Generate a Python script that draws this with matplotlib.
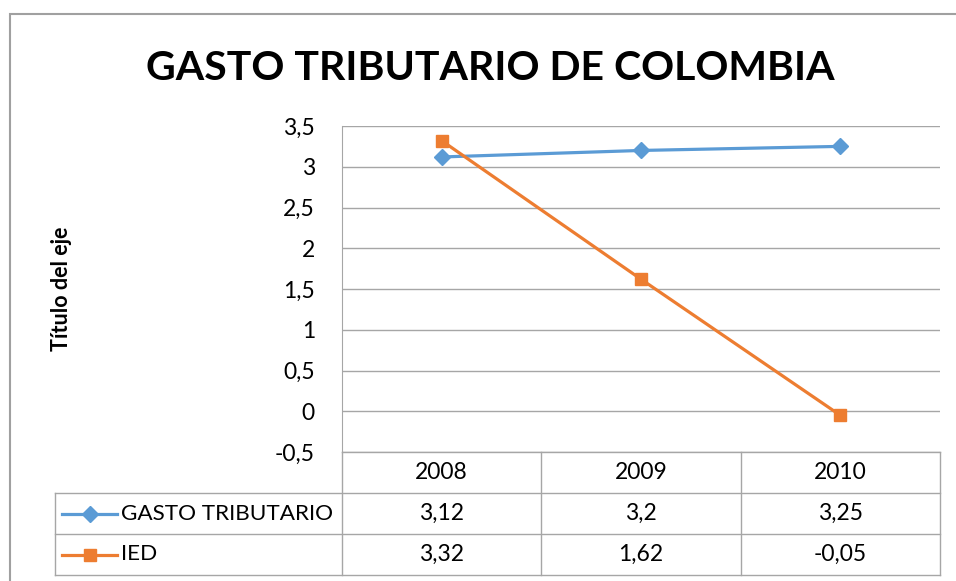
import matplotlib.pyplot as plt
from matplotlib.lines import Line2D
from matplotlib.patches import Rectangle
from matplotlib.ticker import FuncFormatter

plt.rcParams['font.family'] = ['Lato', 'DejaVu Sans']

# datos
years = ['2008', '2009', '2010']
gasto = [3.12, 3.2, 3.25]
ied = [3.32, 1.62, -0.05]
gasto_txt = ['3,12', '3,2', '3,25']
ied_txt = ['3,32', '1,62', '-0,05']
series_names = ['GASTO TRIBUTARIO', 'IED']

blue = '#5B9BD5'
orange = '#ED7D31'
grid_c = '#A6A6A6'

W, H = 956, 581
fig = plt.figure(figsize=(W / 100, H / 100), dpi=100)

# borde del grafico
fig.add_artist(Rectangle((10 / W, -0.1), 1.1, 1 - 14 / H + 0.1, transform=fig.transFigure,
                         fill=False, edgecolor='#A0A0A0', lw=1.5))

fig.text(490 / W, 1 - 68 / H, 'GASTO TRIBUTARIO DE COLOMBIA', ha='center', va='center',
         fontsize=29.5, fontweight='bold')

ax = fig.add_axes([342 / W, 1 - 452 / H, 598 / W, 326 / H])
x = range(len(years))
ax.plot(x, gasto, color=blue, lw=2.3, marker='D', markersize=8, label=series_names[0])
ax.plot(x, ied, color=orange, lw=2.3, marker='s', markersize=9, label=series_names[1])

ax.set_xlim(-0.5, 2.5)
ax.set_ylim(-0.5, 3.5)
ax.set_yticks([-0.5, 0, 0.5, 1, 1.5, 2, 2.5, 3, 3.5])
ax.yaxis.set_major_formatter(FuncFormatter(lambda v, p: ('%g' % v).replace('.', ',')))
ax.tick_params(axis='y', length=0, labelsize=16.5, pad=19.5)
ax.set_xticks([])
ax.grid(axis='y', color=grid_c, lw=1)
ax.set_axisbelow(True)
for s in ['top', 'right', 'bottom']:
    ax.spines[s].set_visible(False)
ax.spines['left'].set_color(grid_c)
ax.set_ylabel('Título del eje', fontsize=15.5, fontweight='bold', labelpad=0)
ax.yaxis.set_label_coords(-270 / 598, 0.5)

# tabla de datos debajo del eje
tr = ax.get_xaxis_transform()
rh = 41 / 326
lab_left = -0.5 - 287 / (598 / 3)
kw = dict(transform=tr, color=grid_c, lw=1, clip_on=False)
# lineas horizontales
ax.add_line(Line2D([-0.5, 2.5], [0, 0], **kw))
for i in range(1, 4):
    ax.add_line(Line2D([lab_left, 2.5], [-i * rh, -i * rh], **kw))
# lineas verticales
for xc in [-0.5, 0.5, 1.5, 2.5]:
    ax.add_line(Line2D([xc, xc], [0, -3 * rh], **kw))
ax.add_line(Line2D([lab_left, lab_left], [-rh, -3 * rh], **kw))

for i, yr in enumerate(years):
    ax.text(i, -0.5 * rh, yr, transform=tr, ha='center', va='center', fontsize=16.5)
    ax.text(i, -1.5 * rh, gasto_txt[i], transform=tr, ha='center', va='center', fontsize=16.5)
    ax.text(i, -2.5 * rh, ied_txt[i], transform=tr, ha='center', va='center', fontsize=16.5)

# leyenda dentro de la tabla
seg = [lab_left + 7 / 199.3, lab_left + 62 / 199.3]
for j, (c, m, ms, name) in enumerate([(blue, 'D', 8, series_names[0]), (orange, 's', 9, series_names[1])]):
    yy = -(1.5 + j) * rh
    ax.add_line(Line2D(seg, [yy, yy], transform=tr, color=c, lw=2.3, clip_on=False))
    ax.add_line(Line2D([sum(seg) / 2], [yy], transform=tr, color=c, marker=m, markersize=ms,
                       clip_on=False))
    ax.text(lab_left + 66 / 199.3, yy, name, transform=tr, ha='left', va='center', fontsize=16.2)

fig.savefig('out.png', dpi=100)
